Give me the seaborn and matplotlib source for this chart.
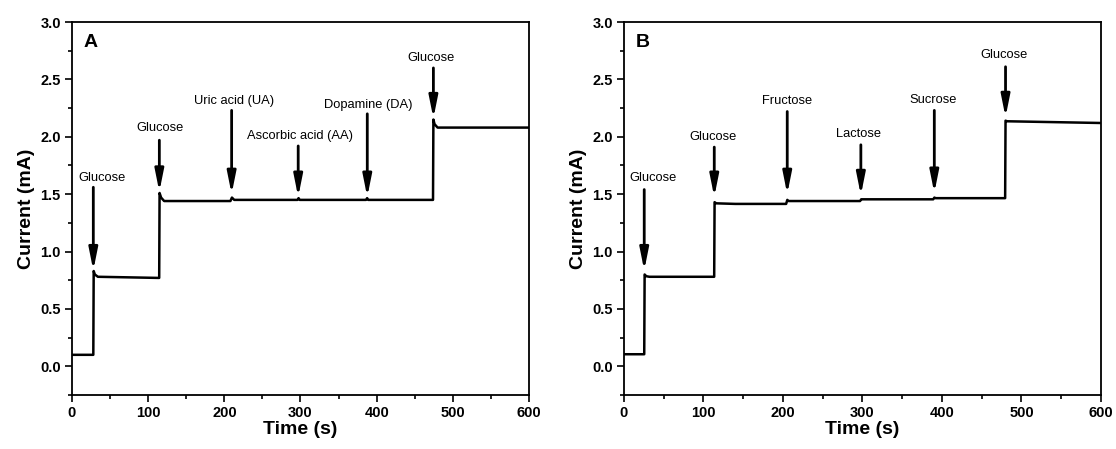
import matplotlib
matplotlib.use("Agg")
import matplotlib.pyplot as plt
import seaborn as sns
import pandas as pd
from matplotlib.ticker import MultipleLocator, FormatStrFormatter

sns.set_theme(style="white")
plt.rcParams["font.family"] = ["Liberation Sans", "DejaVu Sans"]
plt.rcParams["text.color"] = "black"
plt.rcParams["axes.labelcolor"] = "black"
plt.rcParams["xtick.color"] = "black"
plt.rcParams["ytick.color"] = "black"

# Amperometric response, panel A (glucose with UA / AA / DA interferents)
time_a = [0, 28, 28.5, 30, 34, 114.5, 115, 117, 121, 208, 210, 213, 296, 297.5, 299,
          386, 387.5, 389, 474, 474.5, 476, 480, 540, 600]
current_a = [0.10, 0.10, 0.83, 0.80, 0.78, 0.77, 1.51, 1.47, 1.44, 1.44, 1.47, 1.45,
             1.45, 1.465, 1.45, 1.45, 1.465, 1.45, 1.45, 2.15, 2.11, 2.08, 2.08, 2.08]

# Panel B (glucose with other sugars)
time_b = [0, 25.5, 26, 28, 32, 113.5, 114, 116, 140, 204, 205.5, 207, 297, 298.5, 300,
          389, 390.5, 392, 479.5, 480, 482, 600]
current_b = [0.105, 0.105, 0.80, 0.785, 0.78, 0.78, 1.43, 1.42, 1.415, 1.415, 1.45, 1.44,
             1.44, 1.455, 1.455, 1.455, 1.47, 1.465, 1.465, 2.14, 2.135, 2.12]

# Injection markers: label, arrow x, arrow tail y, arrow tip y, label x, label y
labels_a = ["Glucose", "Glucose", "Uric acid (UA)", "Ascorbic acid (AA)", "Dopamine (DA)", "Glucose"]
arrow_x_a = [28, 114.7, 209.6, 297, 387.7, 474.5]
tail_a = [1.56, 1.97, 2.23, 1.92, 2.20, 2.60]
tip_a = [0.835, 1.52, 1.50, 1.475, 1.475, 2.16]
text_x_a = [39, 115.5, 213, 299, 389, 471]
text_y_a = [1.64, 2.08, 2.31, 2.01, 2.28, 2.69]

labels_b = ["Glucose", "Glucose", "Fructose", "Lactose", "Sucrose", "Glucose"]
arrow_x_b = [25.5, 113.6, 205.4, 298, 390.4, 480]
tail_b = [1.54, 1.91, 2.22, 1.93, 2.23, 2.61]
tip_b = [0.835, 1.475, 1.50, 1.49, 1.51, 2.17]
text_x_b = [37, 112, 205, 295.6, 389, 478]
text_y_b = [1.64, 2.00, 2.31, 2.02, 2.32, 2.71]

fig = plt.figure(figsize=(11.16, 4.49), dpi=100)
ax_a = fig.add_axes([0.0645, 0.1203, 0.4095, 0.8307])
ax_b = fig.add_axes([0.5591, 0.1203, 0.4274, 0.8307])

panels = [
    (ax_a, "A", time_a, current_a, labels_a, arrow_x_a, tail_a, tip_a, text_x_a, text_y_a),
    (ax_b, "B", time_b, current_b, labels_b, arrow_x_b, tail_b, tip_b, text_x_b, text_y_b),
]

for ax, tag, t, i, labs, ax_x, tails, tips, tx, ty in panels:
    df = pd.DataFrame({"Time": t, "Current": i})
    sns.lineplot(data=df, x="Time", y="Current", ax=ax, color="black",
                 linewidth=1.8, estimator=None, sort=False)
    for lab, xa, yt, yp, xt, yl in zip(labs, ax_x, tails, tips, tx, ty):
        ax.annotate("", xy=(xa, yp), xytext=(xa, yt),
                    arrowprops=dict(arrowstyle="-|>,head_length=1.0,head_width=0.2",
                                    color="black", lw=2.0,
                                    mutation_scale=13, shrinkA=0, shrinkB=0))
        ax.text(xt, yl, lab, ha="center", va="center", fontsize=9.3, color="black")
    ax.text(0.025, 0.945, tag, transform=ax.transAxes, fontsize=14, fontweight="bold",
            ha="left", va="center", color="black")

    ax.set_xlim(0, 600)
    ax.set_ylim(-0.25, 3.0)
    ax.xaxis.set_major_locator(MultipleLocator(100))
    ax.xaxis.set_minor_locator(MultipleLocator(50))
    ax.yaxis.set_major_locator(MultipleLocator(0.5))
    ax.yaxis.set_minor_locator(MultipleLocator(0.25))
    ax.yaxis.set_major_formatter(FormatStrFormatter("%.1f"))
    ax.tick_params(which="major", direction="out", length=5, width=1.2,
                   bottom=True, left=True, top=False, right=False,
                   labelsize=10.5, color="black", labelcolor="black", pad=3)
    ax.tick_params(which="minor", direction="out", length=3, width=1.2,
                   bottom=True, left=True, top=False, right=False, color="black")
    for lbl in ax.get_xticklabels() + ax.get_yticklabels():
        lbl.set_fontweight("bold")
    for sp in ax.spines.values():
        sp.set_visible(True)
        sp.set_color("black")
        sp.set_linewidth(1.3)
    ax.set_xlabel("Time (s)", fontsize=14, fontweight="bold", labelpad=1, color="black")
    ax.set_ylabel("Current (mA)", fontsize=14, fontweight="bold", labelpad=4, color="black")
    ax.grid(False)

fig.savefig("out.png", dpi=100)
